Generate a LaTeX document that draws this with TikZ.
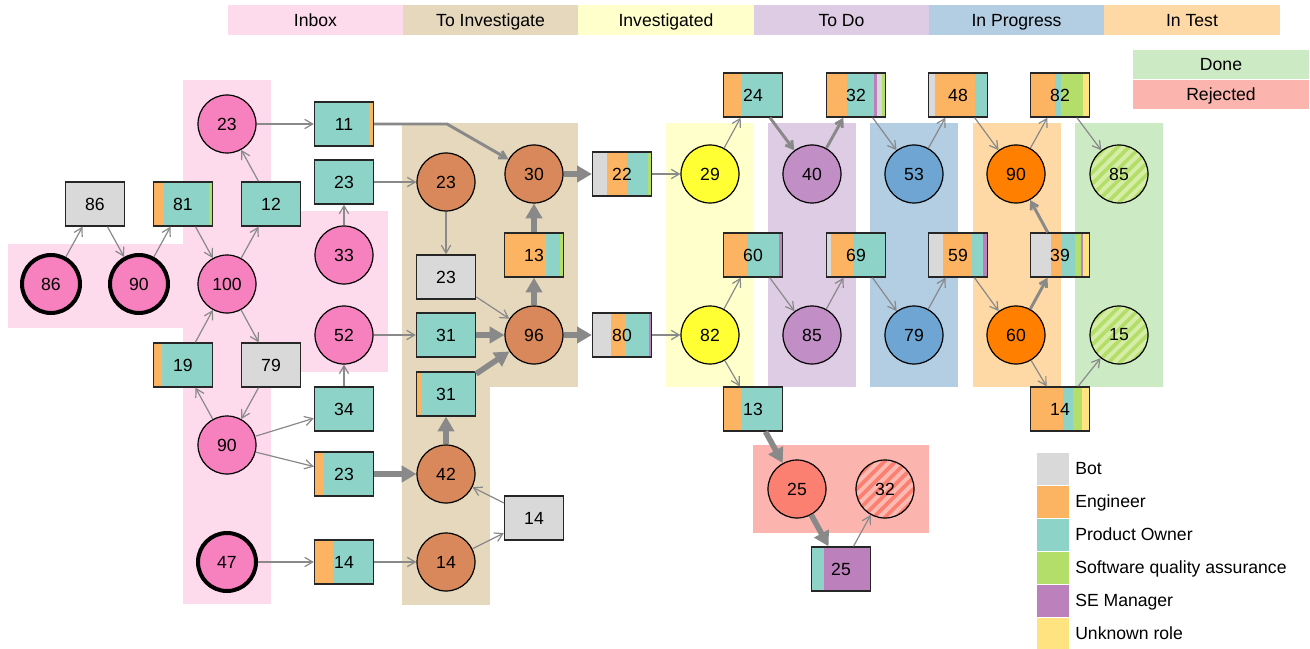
\documentclass[tikz,border=0pt]{standalone}
\usepackage{fontspec}
\setmainfont{Liberation Sans}
\usetikzlibrary{arrows.meta}

% lane colours
\definecolor{pinkL}{HTML}{FDDAEC}
\definecolor{tanL}{HTML}{E5D8BD}
\definecolor{yelL}{HTML}{FFFFCC}
\definecolor{purL}{HTML}{DECBE4}
\definecolor{bluL}{HTML}{B3CDE3}
\definecolor{oraL}{HTML}{FED9A6}
\definecolor{grnL}{HTML}{CCEBC5}
\definecolor{redL}{HTML}{FBB4AE}
% state colours
\definecolor{pinkC}{HTML}{F781BF}
\definecolor{tanC}{HTML}{D8885A}
\definecolor{yelC}{HTML}{FFFF33}
\definecolor{purC}{HTML}{C28EC6}
\definecolor{bluC}{HTML}{6EA5D2}
\definecolor{oraC}{HTML}{FF7F00}
\definecolor{grnC}{HTML}{B3DE69}
\definecolor{grnS}{HTML}{D6EDA8}
\definecolor{redC}{HTML}{FB8072}
\definecolor{redS}{HTML}{FDBAB2}
% role colours
\definecolor{botc}{HTML}{D9D9D9}
\definecolor{engc}{HTML}{FDB462}
\definecolor{poc}{HTML}{8DD3C7}
\definecolor{sqac}{HTML}{B3DE69}
\definecolor{sec}{HTML}{BC80BD}
\definecolor{unkc}{HTML}{FFE380}
\definecolor{edgec}{HTML}{898989}

\tikzset{
  every node/.style={font=\fontsize{13.2}{15}\selectfont, text=black},
  st/.style={circle, draw=black, line width=0.9pt, minimum size=43.5pt, inner sep=0pt},
  init/.style={line width=3pt},
  rbox/.style={rectangle, draw=black!85, line width=1pt, minimum width=44.25pt,
    minimum height=33pt, inner sep=0pt},
  segs/.style={path picture={
    \foreach \c/\a/\b in {#1} {
      \fill[\c] ([xshift={\a*0.75pt}]path picture bounding box.south west)
        rectangle ([xshift={\b*0.75pt}]path picture bounding box.north west);
    }}},
  hatch/.style 2 args={fill=#1, path picture={
    \foreach \i in {-7,...,7} {
      \draw[#2, line width=3pt]
        ([xshift={\i*8.5pt-40pt}, yshift=-40pt]path picture bounding box.center)
        -- ([xshift={\i*8.5pt+40pt}, yshift=40pt]path picture bounding box.center);
    }}},
  lbl/.style={text height=11.2pt, text depth=2.6pt},
  hdr/.style={rectangle, lbl, minimum width=131.5pt, minimum height=22.5pt, inner sep=0pt},
  swatch/.style={rectangle, minimum width=24pt, minimum height=24pt, inner sep=0pt},
  legtext/.style={anchor=west, inner sep=0pt, lbl},
  ethin/.style={draw=edgec, line width=0.9pt, -{Straight Barb[length=6pt,width=7pt]}},
  emid/.style={draw=edgec, line width=2.2pt, -{Straight Barb[length=5pt,width=6pt]}},
  ethick/.style={draw=edgec, line width=4.2pt, -{Triangle[length=11pt,width=12pt]}},
}

\begin{document}
\begin{tikzpicture}[x=0.75pt, y=-0.75pt]
\useasboundingbox (0,0) rectangle (1310,649);

% ---- lane backgrounds ----
\fill[pinkL] (183,80) rectangle (271,604);
\fill[pinkL] (8,244) rectangle (183,328);
\fill[pinkL] (271,211) rectangle (388,372);
\fill[tanL] (402,123) rectangle (578,387);
\fill[tanL] (402,387) rectangle (490,605);
\fill[yelL] (666,123) rectangle (753,387);
\fill[purL] (768,123) rectangle (856,387);
\fill[bluL] (870,123) rectangle (958,387);
\fill[oraL] (973,123) rectangle (1061,387);
\fill[grnL] (1075,123) rectangle (1163,387);
\fill[redL] (753,445) rectangle (929,533);

% ---- column headers ----
\node[hdr, fill=pinkL] (hInbox) at (315.5,20.5) {Inbox};
\node[hdr, fill=tanL] (hToInv) at (490.5,20.5) {To Investigate};
\node[hdr, fill=yelL] (hInv) at (666,20.5) {Investigated};
\node[hdr, fill=purL] (hToDo) at (841.5,20.5) {To Do};
\node[hdr, fill=bluL] (hProg) at (1016.5,20.5) {In Progress};
\node[hdr, fill=oraL] (hTest) at (1192,20.5) {In Test};
\node[hdr, fill=grnL, minimum width=132pt, minimum height=22pt] (hDone) at (1221,64.5) {Done};
\node[hdr, fill=redL, minimum width=132pt, minimum height=22pt] (hRej) at (1221,94.5) {Rejected};

% ---- Inbox ----
\node[st, init, fill=pinkC] (i86) at (51,284) {86};
\node[st, init, fill=pinkC] (i90) at (139,284) {90};
\node[rbox, fill=botc] (b86) at (95,204) {86};
\node[rbox, segs={engc/0/10,poc/10/55,sqac/55/59}] (b81) at (183,204) {81};
\node[rbox, fill=poc] (b12) at (271,204) {12};
\node[st, fill=pinkC] (i23) at (227,124) {23};
\node[rbox, segs={poc/0/54,engc/54/59}] (b11) at (344,124) {11};
\node[rbox, fill=poc] (b23a) at (344,182) {23};
\node[st, fill=pinkC] (i33) at (344,255) {33};
\node[st, fill=pinkC] (i100) at (227,284) {100};
\node[st, fill=pinkC] (i52) at (344,335) {52};
\node[rbox, segs={engc/0/8,poc/8/59}] (b19) at (183,365) {19};
\node[rbox, fill=botc] (b79) at (271,365) {79};
\node[st, fill=pinkC] (i90b) at (227,445) {90};
\node[rbox, fill=poc] (b34) at (344,409) {34};
\node[rbox, segs={engc/0/9,poc/9/59}] (b23b) at (344,474) {23};
\node[st, init, fill=pinkC] (i47) at (227,562) {47};
\node[rbox, segs={engc/0/18,poc/18/59}] (b14a) at (344,562) {14};

% ---- To Investigate ----
\node[st, fill=tanC] (t23) at (446,182) {23};
\node[st, fill=tanC] (t30) at (534,174) {30};
\node[rbox, segs={botc/0/14,engc/14/34,poc/34/55,sqac/55/59}] (b22) at (622,174) {22};
\node[rbox, fill=botc] (b23g) at (446,277) {23};
\node[rbox, segs={engc/0/41,poc/41/55,sqac/55/59}] (b13) at (534,255) {13};
\node[st, fill=tanC] (t96) at (534,335) {96};
\node[rbox, fill=poc] (b31a) at (446,335) {31};
\node[rbox, segs={botc/0/18,engc/18/33,poc/33/56,sec/56/59}] (b80) at (622,335) {80};
\node[rbox, segs={engc/0/4,poc/4/59}] (b31b) at (446,394) {31};
\node[st, fill=tanC] (t42) at (446,474) {42};
\node[rbox, fill=botc] (b14g) at (534,518) {14};
\node[st, fill=tanC] (t14) at (446,562) {14};
\coordinate (bk) at (447,124);

% ---- Investigated / To Do ----
\node[st, fill=yelC] (v29) at (710,174) {29};
\node[rbox, segs={engc/0/18,poc/18/59}] (b24) at (753,95) {24};
\node[st, fill=purC] (d40) at (812,174) {40};
\node[rbox, segs={engc/0/20,poc/20/47,sec/47/50,botc/50/55,sqac/55/59}] (b32) at (856,95) {32};
\node[st, fill=yelC] (v82) at (710,335) {82};
\node[rbox, segs={engc/0/23,poc/23/55,sec/55/59}] (b60) at (753,255) {60};
\node[st, fill=purC] (d85) at (812,335) {85};
\node[rbox, segs={botc/0/4,engc/4/26,poc/26/59}] (b69) at (856,255) {69};
\node[rbox, segs={engc/0/18,poc/18/59}] (b13b) at (753,409) {13};

% ---- In Progress / In Test / Done ----
\node[st, fill=bluC] (p53) at (914,174) {53};
\node[rbox, segs={botc/0/6,engc/6/46,poc/46/59}] (b48) at (958,95) {48};
\node[st, fill=oraC] (q90) at (1016,174) {90};
\node[rbox, segs={engc/0/24,poc/24/30,sqac/30/52,unkc/52/59}] (b82) at (1060,95) {82};
\node[st, hatch={grnC}{grnS}] (g85) at (1119,174) {85};
\node[st, fill=bluC] (p79) at (914,335) {79};
\node[rbox, segs={botc/0/14,engc/14/43,poc/43/54,sec/54/59}] (b59) at (958,255) {59};
\node[st, fill=oraC] (q60) at (1016,335) {60};
\node[rbox, segs={botc/0/20,engc/20/31,poc/31/44,sqac/44/50,sec/50/52,unkc/52/59}] (b39) at (1060,255) {39};
\node[st, hatch={grnC}{grnS}] (g15) at (1119,335) {15};
\node[rbox, segs={engc/0/32,poc/32/42,sqac/42/51,unkc/51/59}] (b14c) at (1060,409) {14};

% ---- Rejected ----
\node[st, fill=redC] (r25) at (797,489) {25};
\node[st, hatch={redC}{redS}] (r32) at (885,489) {32};
\node[rbox, segs={poc/0/12,sec/12/59}] (b25) at (841,569) {25};

% ---- transitions ----
\draw[ethin] (i86) -- (b86);
\draw[ethin] (b86) -- (i90);
\draw[ethin] (i90) -- (b81);
\draw[ethin] (b81) -- (i100);
\draw[ethin] (i100) -- (b12);
\draw[ethin] (b12) -- (i23);
\draw[ethin] (i23) -- (b11);
\draw[emid] (b11.east |- bk) -- (bk) -- (t30);
\draw[ethin] (b23a) -- (t23);
\draw[ethin] (i33) -- (b23a);
\draw[ethin] (t23) -- (b23g);
\draw[ethin] (b23g) -- (t96);
\draw[ethin] (i52) -- (b31a);
\draw[ethick] (b31a) -- (t96);
\draw[ethick] (b31b) -- (t96);
\draw[ethick] (t96) -- (b13);
\draw[ethick] (b13) -- (t30);
\draw[ethick] (t30) -- (b22);
\draw[ethick] (t96) -- (b80);
\draw[ethin] (b22) -- (v29);
\draw[ethin] (b80) -- (v82);
\draw[ethin] (i100) -- (b79);
\draw[ethin] (b79) -- (i90b);
\draw[ethin] (i90b) -- (b19);
\draw[ethin] (b19) -- (i100);
\draw[ethin] (b34) -- (i52);
\draw[ethin] (i90b) -- (b34);
\draw[ethin] (i90b) -- (b23b);
\draw[ethick] (b23b) -- (t42);
\draw[ethick] (t42) -- (b31b);
\draw[ethin] (i47) -- (b14a);
\draw[ethin] (b14a) -- (t14);
\draw[ethin] (t14) -- (b14g);
\draw[ethin] (b14g) -- (t42);
\draw[ethin] (v29) -- (b24);
\draw[emid] (b24) -- (d40);
\draw[emid] (d40) -- (b32);
\draw[ethin] (b32) -- (p53);
\draw[ethin] (p53) -- (b48);
\draw[ethin] (b48) -- (q90);
\draw[ethin] (q90) -- (b82);
\draw[ethin] (b82) -- (g85);
\draw[ethin] (v82) -- (b60);
\draw[ethin] (b60) -- (d85);
\draw[ethin] (d85) -- (b69);
\draw[ethin] (b69) -- (p79);
\draw[ethin] (p79) -- (b59);
\draw[ethin] (b59) -- (q60);
\draw[emid] (q60) -- (b39);
\draw[emid] (b39) -- (q90);
\draw[ethin] (q60) -- (b14c);
\draw[ethin] (b14c) -- (g15);
\draw[ethin] (v82) -- (b13b);
\draw[ethick] (b13b) -- (r25);
\draw[ethick] (r25) -- (b25);
\draw[ethin] (b25) -- (r32);

% ---- role legend ----
\node[swatch, fill=botc] (sBot) at (1053,469) {};
\node[swatch, fill=engc] (sEng) at (1053,502) {};
\node[swatch, fill=poc] (sPo) at (1053,535) {};
\node[swatch, fill=sqac] (sSqa) at (1053,568) {};
\node[swatch, fill=sec] (sSe) at (1053,601) {};
\node[swatch, fill=unkc] (sUnk) at (1053,633.5) {};
\node[legtext] (lBot) at (1075,469) {Bot};
\node[legtext] (lEng) at (1075,502) {Engineer};
\node[legtext] (lPo) at (1075,535) {Product Owner};
\node[legtext] (lSqa) at (1075,568) {Software quality assurance};
\node[legtext] (lSe) at (1075,601) {SE Manager};
\node[legtext] (lUnk) at (1075,633.5) {Unknown role};
\end{tikzpicture}
\end{document}
